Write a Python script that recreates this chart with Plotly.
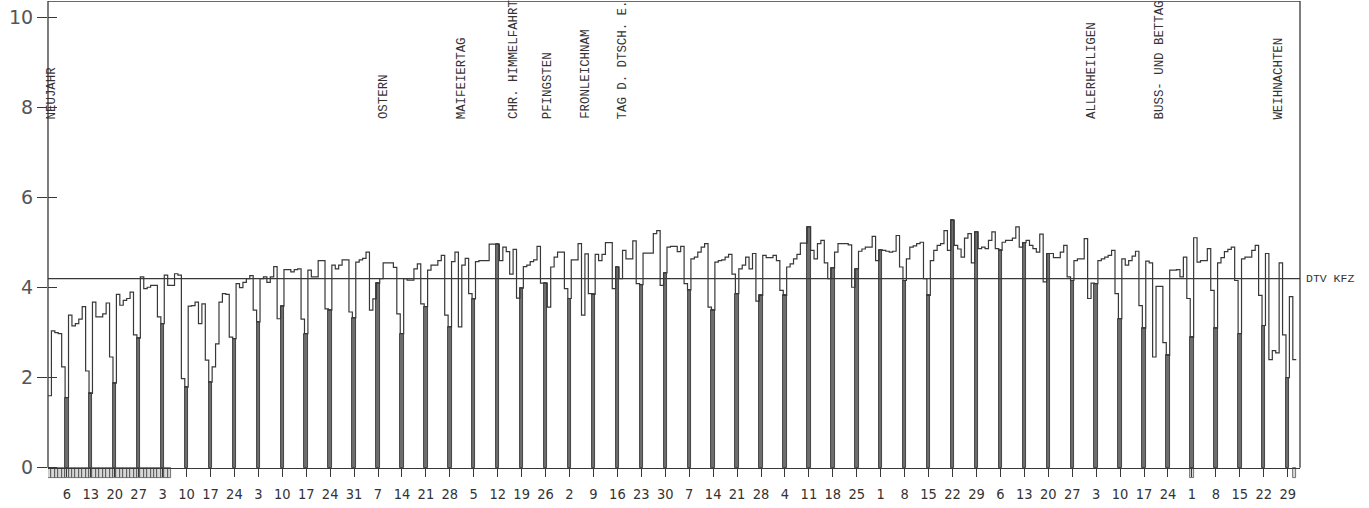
import datetime as dt
import plotly.graph_objects as go

year = 1985

# daily values (one per day)
jan = [1.6, 3.04, 3.0, 2.98, 2.24, 1.56,
       3.39, 3.15, 3.2, 3.3, 3.58, 2.15, 1.65,
       3.68, 3.35, 3.35, 3.42, 3.66, 2.46, 1.88,
       3.85, 3.61, 3.72, 3.76, 3.9, 2.95, 2.88,
       4.24, 3.98, 4.01, 4.05]
feb = [4.05, 3.35, 3.2,
       4.28, 4.05, 4.05, 4.31, 4.28, 1.98, 1.79,
       3.59, 3.6, 3.68, 3.2, 3.64, 2.39, 1.9,
       2.24, 2.75, 3.68, 3.87, 3.85, 2.9, 2.87,
       4.09, 4.0, 4.12, 4.2]
mar = [4.27, 3.5, 3.24,
       4.2, 4.24, 4.12, 4.24, 4.47, 3.31, 3.59,
       4.4, 4.4, 4.35, 4.4, 4.42, 3.3, 2.98,
       4.39, 4.24, 4.24, 4.6, 4.6, 3.53, 3.5,
       4.5, 4.42, 4.5, 4.62, 4.62, 3.46, 3.33]
apr = [4.57, 4.62, 4.65, 4.79, 3.5, 3.75, 4.1,
       4.2, 4.55, 4.55, 4.55, 4.45, 3.42, 2.98,
       4.2, 4.17, 4.17, 4.42, 4.53, 3.64, 3.58,
       4.39, 4.5, 4.5, 4.6, 4.72, 3.39, 3.13,
       4.58, 4.79]
may = [3.13, 4.5, 4.65, 3.87, 3.75,
       4.58, 4.6, 4.6, 4.6, 4.97, 4.97, 4.97,
       4.6, 4.9, 4.8, 4.3, 4.85, 3.77, 3.99,
       4.47, 4.5, 4.58, 4.62, 4.92, 4.1, 4.1,
       3.57, 4.46, 4.68, 4.79, 4.79]
jun = [3.98, 3.76,
       4.62, 4.62, 4.98, 3.39, 4.75, 3.87, 3.85,
       4.74, 4.6, 4.74, 5.0, 5.0, 3.98, 4.46,
       4.2, 4.83, 4.64, 4.64, 5.04, 4.09, 4.07,
       4.77, 4.77, 4.77, 5.2, 5.27, 4.05, 4.33]
jul = [4.9, 4.92, 4.92, 4.8, 4.92, 4.09, 3.95,
       4.64, 4.68, 4.79, 4.9, 4.98, 3.57, 3.5,
       4.57, 4.6, 4.62, 4.68, 4.74, 4.3, 3.87,
       4.42, 4.5, 4.68, 4.42, 4.76, 3.7, 3.83,
       4.72, 4.67, 4.67]
aug = [4.72, 4.6, 3.94, 3.83,
       4.46, 4.53, 4.64, 4.74, 4.99, 4.99, 5.35,
       4.83, 4.64, 4.98, 5.05, 4.55, 4.2, 4.44,
       4.79, 4.98, 4.98, 4.98, 4.95, 4.01, 4.42,
       4.81, 4.86, 4.9, 4.9, 5.14, 4.6]
sep = [4.84,
       4.83, 4.81, 4.79, 4.81, 5.16, 4.46, 4.16,
       4.64, 4.9, 4.93, 4.98, 5.01, 4.2, 3.83,
       4.6, 4.83, 4.94, 4.98, 5.27, 4.83, 5.5,
       4.94, 4.86, 4.68, 5.1, 5.2, 4.55, 5.24,
       4.87]
oct_ = [4.9, 4.87, 5.05, 5.24, 4.87, 4.83,
        5.01, 5.05, 5.05, 5.1, 5.35, 4.9, 5.0,
        5.05, 4.94, 4.87, 4.79, 5.19, 4.13, 4.76,
        4.76, 4.67, 4.67, 4.79, 4.94, 4.24, 4.16,
        4.6, 4.64, 4.64, 5.09]
nov = [3.76, 4.1, 4.09,
       4.6, 4.64, 4.68, 4.72, 4.83, 3.87, 3.31,
       4.64, 4.5, 4.6, 4.7, 4.81, 3.6, 3.1,
       4.59, 4.55, 2.46, 4.03, 4.03, 2.78, 2.5,
       4.39, 4.39, 4.4, 4.24, 4.68, 3.76]
dec = [2.9,
       5.11, 4.57, 4.6, 4.6, 4.87, 3.94, 3.1,
       4.55, 4.67, 4.8, 4.85, 4.9, 4.16, 2.98,
       4.64, 4.68, 4.68, 4.83, 4.94, 3.83, 3.16,
       4.76, 2.4, 2.6, 2.55, 4.55, 2.95, 2.0,
       3.8, 2.4]

dtv_kfz = 4.2

tick_labels = ["6", "13", "20", "27", "3", "10", "17", "24", "3", "10", "17", "24", "31",
               "7", "14", "21", "28", "5", "12", "19", "26", "2", "9", "16", "23", "30",
               "7", "14", "21", "28", "4", "11", "18", "25", "1", "8", "15", "22", "29",
               "6", "13", "20", "27", "3", "10", "17", "24", "1", "8", "15", "22", "29"]

holiday_names = ["NEUJAHR", "OSTERN", "MAIFEIERTAG", "CHR. HIMMELFAHRT", "PFINGSTEN",
                 "FRONLEICHNAM", "TAG D. DTSCH. E.", "ALLERHEILIGEN", "BUSS- UND BETTAG",
                 "WEIHNACHTEN"]
holiday_days = [1, 98, 121, 136, 146, 157, 168, 305, 325, 360]

marked_days = list(range(1, 37)) + [335, 365]

y_ticks = [0, 2, 4, 6, 8, 10]

# ---------------------------------------------------------------
daily = jan + feb + mar + apr + may + jun + jul + aug + sep + oct_ + nov + dec
days = list(range(1, len(daily) + 1))
start = dt.date(year, 1, 1)
sundays = [d for d in days if (start + dt.timedelta(days=d - 1)).weekday() == 6]
sunday_vals = [daily[d - 1] for d in sundays]

X_MIN, X_MAX = 0.5, 366.6
Y_MIN, Y_MAX = -0.45, 10.37
zero_pos = (0 - Y_MIN) / (Y_MAX - Y_MIN)

LINE = "#383838"
TXT = "#333333"

fig = go.Figure()

# strip of marked days below the axis
fig.add_trace(go.Bar(
    x=marked_days, y=[-0.22] * len(marked_days), width=1.0,
    marker=dict(color="white", line=dict(color="#555555", width=0.8),
                pattern=dict(shape="|", size=2, solidity=0.3, fgcolor="#777777")),
    hoverinfo="skip", showlegend=False))

# Sunday bars
fig.add_trace(go.Bar(
    x=sundays, y=sunday_vals, width=1.0,
    marker=dict(color="#6e6e6e", line=dict(color=LINE, width=0.9)),
    hoverinfo="skip", showlegend=False))

# daily step line
fig.add_trace(go.Scatter(
    x=[d - 0.5 for d in days] + [days[-1] + 0.5],
    y=daily + [daily[-1]],
    mode="lines", line=dict(color=LINE, width=1.2, shape="hv"),
    hoverinfo="skip", showlegend=False))

# DTV line
fig.add_trace(go.Scatter(
    x=[X_MIN, X_MAX], y=[dtv_kfz, dtv_kfz], mode="lines",
    line=dict(color=LINE, width=1.2), hoverinfo="skip", showlegend=False))

# dummy trace for inner ticks axis
fig.add_trace(go.Scatter(x=[None], y=[None], yaxis="y2", showlegend=False, hoverinfo="skip"))

annotations = []
for name, d in zip(holiday_names, holiday_days):
    annotations.append(dict(
        x=d, y=7.7, xref="x", yref="y", text=name, textangle=-90,
        showarrow=False, xanchor="center", yanchor="bottom", xshift=2,
        font=dict(family="Liberation Mono, DejaVu Sans Mono, monospace", size=12.4, color=TXT)))
annotations.append(dict(
    x=1, y=dtv_kfz, xref="paper", yref="y", text="DTV KFZ", showarrow=False,
    xanchor="left", yanchor="middle", xshift=4,
    font=dict(family="Liberation Mono, DejaVu Sans Mono, monospace", size=11.5, color=TXT)))

shapes = [
    dict(type="line", xref="paper", yref="y", x0=0, x1=0, y0=0, y1=Y_MAX,
         line=dict(color=LINE, width=1.3)),
    dict(type="line", xref="paper", yref="y", x0=1, x1=1, y0=0, y1=Y_MAX,
         line=dict(color=LINE, width=1.3)),
    dict(type="line", xref="paper", yref="y", x0=0, x1=1, y0=Y_MAX, y1=Y_MAX,
         line=dict(color=LINE, width=1.3)),
]

fig.update_layout(
    template="none",
    width=1369, height=508,
    margin=dict(l=48, r=69, t=1, b=20),
    paper_bgcolor="white", plot_bgcolor="white",
    bargap=0, barmode="overlay",
    showlegend=False,
    annotations=annotations,
    shapes=shapes,
    xaxis=dict(
        range=[X_MIN, X_MAX], anchor="free", position=zero_pos,
        showline=True, linecolor=LINE, linewidth=1.3,
        showgrid=False, zeroline=False,
        ticks="outside", ticklen=8, tickwidth=1.2, tickcolor=LINE,
        tickvals=sundays, ticktext=tick_labels, tickangle=0,
        ticklabelstandoff=5,
        tickfont=dict(family="DejaVu Sans Condensed, Liberation Sans Narrow, Liberation Sans, sans-serif",
                      size=14.5, color=TXT),
        automargin=False, fixedrange=True),
    yaxis=dict(
        range=[Y_MIN, Y_MAX], domain=[0, 1],
        showline=False, showgrid=False, zeroline=False,
        ticks="outside", ticklen=10, tickwidth=1.2, tickcolor=LINE,
        tickvals=y_ticks, ticktext=[str(v) for v in y_ticks],
        tickfont=dict(family="DejaVu Sans, sans-serif", size=19, color="#555555"),
        automargin=False, fixedrange=True),
    yaxis2=dict(
        range=[Y_MIN, Y_MAX], overlaying="y", side="left", anchor="x",
        showline=False, showgrid=False, zeroline=False,
        ticks="inside", ticklen=9, tickwidth=1.2, tickcolor=LINE,
        tickvals=y_ticks, showticklabels=False,
        automargin=False, fixedrange=True),
)

fig.write_html(
    "out.html",
    config={"displayModeBar": False},
    post_script="document.body.style.margin='0';document.body.style.padding='0';"
                "document.body.style.overflow='hidden';",
)
